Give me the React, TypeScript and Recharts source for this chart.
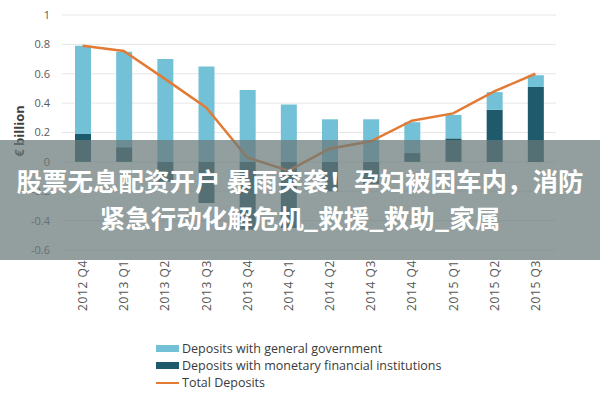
import React from 'react';
import { ComposedChart, Bar, Line, XAxis, YAxis, CartesianGrid } from 'recharts';

const quarters = ['2012 Q4', '2013 Q1', '2013 Q2', '2013 Q3', '2013 Q4', '2014 Q1', '2014 Q2', '2014 Q3', '2014 Q4', '2015 Q1', '2015 Q2', '2015 Q3'];
const generalGov = [0.6, 0.65, 0.7, 0.65, 0.49, 0.39, 0.29, 0.29, 0.21, 0.16, 0.12, 0.08];
const monetaryInst = [0.19, 0.1, -0.135, -0.28, -0.46, -0.45, -0.2, -0.15, 0.06, 0.16, 0.355, 0.51];
const totalDeposits = [0.79, 0.755, 0.565, 0.37, 0.03, -0.06, 0.09, 0.14, 0.28, 0.33, 0.48, 0.6];
const yTicks = [-0.6, -0.4, -0.2, 0, 0.2, 0.4, 0.6, 0.8, 1];

const seriesNames = ['Deposits with general government', 'Deposits with monetary financial institutions', 'Total Deposits'];
const bannerLines = ['股票无息配资开户 暴雨突袭！孕妇被困车内，消防', '紧急行动化解危机_救援_救助_家属'];

const LIGHT = '#72c1d7';
const DARK = '#1e5a6b';
const ORANGE = '#e27b36';

const data = quarters.map((q, i) => ({
  quarter: q,
  gov: generalGov[i],
  mfi: monetaryInst[i],
  total: totalDeposits[i],
}));

const FONT = '"Open Sans", "Liberation Sans", sans-serif';

// rotated quarter labels, reading bottom-to-top
const QuarterTick = ({ x, y, payload }: any) => (
  <text
    x={x}
    y={y}
    transform={`rotate(-90 ${x} ${y})`}
    textAnchor="end"
    dominantBaseline="central"
    fontSize={12}
    letterSpacing={0.6}
    fill="#555"
    fontFamily={FONT}
  >
    {payload.value}
  </text>
);

const legendItems = [
  { name: seriesNames[0], color: LIGHT, kind: 'rect' },
  { name: seriesNames[1], color: DARK, kind: 'rect' },
  { name: seriesNames[2], color: ORANGE, kind: 'line' },
];

export default function App() {
  return (
    <div style={{ position: 'relative', width: 600, height: 400, background: '#fff', fontFamily: FONT }}>
      <style>{'body{margin:0}'}</style>
      <ComposedChart
        width={600}
        height={400}
        data={data}
        stackOffset="sign"
        margin={{ top: 15, right: 44, bottom: 0, left: 0 }}
      >
        <CartesianGrid vertical={false} stroke="#e6e6e6" />
        <XAxis
          dataKey="quarter"
          height={150}
          axisLine={false}
          tickLine={false}
          interval={0}
          tick={<QuarterTick />}
          tickMargin={4}
        />
        <YAxis
          width={62}
          domain={[-0.6, 1]}
          ticks={yTicks}
          interval={0}
          axisLine={false}
          tickLine={false}
          tickMargin={6}
          tick={{ fontSize: 11, fill: '#5a5a5a', fontFamily: FONT }}
          tickFormatter={(v: number) => String(v)}
        />
        <Bar dataKey="mfi" stackId="dep" fill={DARK} barSize={16} isAnimationActive={false} />
        <Bar dataKey="gov" stackId="dep" fill={LIGHT} barSize={16} isAnimationActive={false} />
        <Line dataKey="total" type="linear" stroke={ORANGE} strokeWidth={2.5} dot={false} isAnimationActive={false} />
      </ComposedChart>

      <div
        style={{
          position: 'absolute',
          left: 19,
          top: 131,
          transform: 'translate(-50%, -50%) rotate(-90deg)',
          transformOrigin: 'center',
          whiteSpace: 'nowrap',
          fontWeight: 700,
          fontSize: 13,
          color: '#404040',
        }}
      >
        € billion
      </div>

      <div style={{ position: 'absolute', left: 156, top: 340, fontSize: 12.5, color: '#3a3a3a', lineHeight: '17px' }}>
        {legendItems.map((it) => (
          <div key={it.name} style={{ display: 'flex', alignItems: 'center', whiteSpace: 'nowrap' }}>
            <span
              style={{
                display: 'inline-block',
                width: 23,
                height: it.kind === 'rect' ? 7 : 2,
                background: it.color,
                marginRight: 3,
              }}
            />
            {it.name}
          </div>
        ))}
      </div>

      <div
        style={{
          position: 'absolute',
          left: 0,
          top: 140,
          width: 600,
          height: 120,
          background: 'rgba(105,120,120,0.72)',
          color: '#fff',
          fontFamily: '"Noto Sans CJK SC", sans-serif',
          fontWeight: 700,
          fontSize: 25.5,
          textAlign: 'center',
          whiteSpace: 'nowrap',
        }}
      >
        <div style={{ position: 'absolute', left: 0, right: 0, top: 22, lineHeight: '36px' }}>{bannerLines[0]}</div>
        <div style={{ position: 'absolute', left: 0, right: 0, top: 59, lineHeight: '36px' }}>{bannerLines[1]}</div>
      </div>
    </div>
  );
}
